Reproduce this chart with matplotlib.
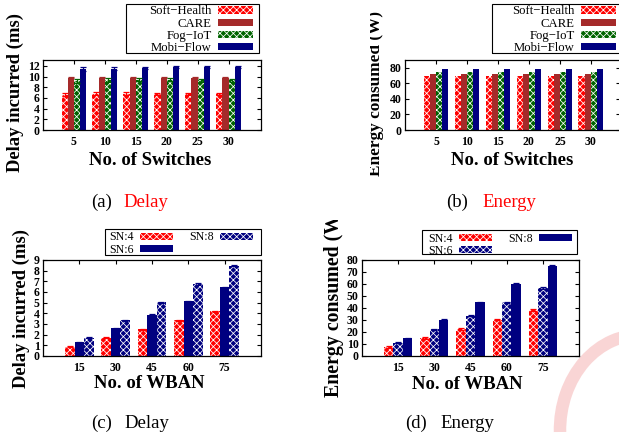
import numpy as np
import matplotlib
matplotlib.use("Agg")
import matplotlib.pyplot as plt
from matplotlib.transforms import Bbox, TransformedBbox
from matplotlib.patches import Arc, Rectangle

plt.rcParams['font.family'] = ['Liberation Serif', 'DejaVu Serif']
plt.rcParams['hatch.linewidth'] = 0.55

# ---------------- data ----------------
switches = ['5', '10', '15', '20', '25', '30']
methods = ['Soft\u2212Health', 'CARE', 'Fog\u2212IoT', 'Mobi\u2212Flow']

delay_soft = [6.6, 6.8, 6.8, 6.8, 6.8, 6.8]
delay_care = [9.8, 9.8, 9.8, 9.8, 9.8, 9.8]
delay_fog = [9.2, 9.3, 9.4, 9.4, 9.3, 9.3]
delay_mobi = [11.4, 11.5, 11.6, 11.8, 11.8, 11.8]
delay_err_soft = [0.3, 0.3, 0.3, 0.2, 0.2, 0.2]
delay_err_care = [0.1, 0.1, 0.1, 0.1, 0.1, 0.1]
delay_err_fog = [0.4, 0.4, 0.3, 0.3, 0.3, 0.3]
delay_err_mobi = [0.4, 0.3, 0.2, 0.15, 0.15, 0.15]

energy_soft = [69.5, 69, 69, 69, 69, 69]
energy_care = [72, 72, 72, 72, 72, 72]
energy_fog = [75, 74.5, 74.5, 74.5, 74.5, 74.5]
energy_mobi = [78, 78, 78, 78, 78, 78]

wban = ['15', '30', '45', '60', '75']
sn_labels = ['SN:4', 'SN:6', 'SN:8']
wdelay_sn4 = [0.85, 1.7, 2.5, 3.35, 4.2]
wdelay_sn6 = [1.3, 2.6, 3.85, 5.15, 6.45]
wdelay_sn8 = [1.7, 3.35, 5.05, 6.75, 8.45]
wdelay_err = [0.05, 0.05, 0.05, 0.05, 0.05]
wenergy_sn4 = [7.5, 15, 22.5, 30.3, 38]
wenergy_sn6 = [11, 22.2, 33.5, 44.7, 56.5]
wenergy_sn8 = [14.7, 30, 44.7, 60, 75]
wenergy_err = [0.5, 0.5, 0.5, 0.6, 0.8]

# ---------------- style ----------------
RED = '#ff0000'
BROWN = '#a52a2a'
GREEN = '#006400'
NAVY = '#000080'
HATCH = 'xxxxx'

W, H = 619, 442
fig = plt.figure(figsize=(W / 100, H / 100), dpi=100)


def rect(l, t, r, b):
    return [l / W, 1 - b / H, (r - l) / W, (b - t) / H]


def style_axes(ax, ticks, ticklabels, yticks):
    ax.set_xticks(ticks)
    ax.set_xticklabels(ticklabels)
    ax.set_yticks(yticks)
    ax.tick_params(direction='in', length=3, width=0.8, top=True, right=True,
                   labelsize=8.5)
    ax.tick_params(axis='x', pad=4.0)
    ax.tick_params(axis='y', pad=2.5)
    for lbl in ax.get_xticklabels() + ax.get_yticklabels():
        lbl.set_fontweight('bold')
    for s in ax.spines.values():
        s.set_linewidth(0.9)


def draw_bar(ax, x, y, w, color, hatch, err=None):
    if hatch:
        b = ax.bar(x, y, w, color=color, edgecolor='white', hatch=hatch,
                   linewidth=0, zorder=2)
    else:
        b = ax.bar(x, y, w, color=color, linewidth=0, zorder=2)
    if err is not None:
        ax.errorbar(x, y, yerr=err, fmt='none', ecolor=color, elinewidth=0.9,
                    capsize=2.2, capthick=0.9, zorder=3)
    return b


def legend(ax, handles, labels, frame, hx, hy, ncol=1, colsp=1.0, size=9.2):
    # frame: (left, top, right, bottom) in px ; (hx, hy): upper-right of entries
    lg = ax.legend(handles, labels, loc='upper right',
                   bbox_to_anchor=(hx / W, 1 - hy / H),
                   bbox_transform=fig.transFigure, borderaxespad=0,
                   markerfirst=False, ncol=ncol, columnspacing=colsp,
                   prop={'family': 'Liberation Serif', 'size': size},
                   handlelength=2.75, handleheight=0.5, handletextpad=0.5,
                   labelspacing=0.02, borderpad=0, frameon=False)
    l, t, r, b = frame
    fig.add_artist(Rectangle((l / W, 1 - b / H), (r - l) / W, (b - t) / H,
                             transform=fig.transFigure, fill=False,
                             edgecolor='black', lw=0.8, zorder=-1))
    return lg


def ylabel(text, x, y, size=13.4, clip=None):
    t = fig.text(x / W, 1 - y / H, text, rotation=90, ha='center', va='center',
                 fontsize=size, fontweight='bold')
    if clip is not None:
        l, tp, r, b = clip
        bb = Bbox.from_extents(l / W, 1 - b / H, r / W, 1 - tp / H)
        t.set_clip_box(TransformedBbox(bb, fig.transFigure))
        t.set_clip_on(True)
    return t


def xlabel(text, x, y):
    fig.text(x / W, 1 - y / H, text, ha='center', va='baseline',
             fontsize=13.5, fontweight='bold')


def caption(tag, word, x_right, x_left, y, color):
    fig.text(x_right / W, 1 - y / H, tag, ha='right', va='baseline',
             fontsize=13.5, color='black')
    fig.text(x_left / W, 1 - y / H, word, ha='left', va='baseline',
             fontsize=13.5, color=color)


# ---------------- (a) delay vs switches ----------------
xa = np.arange(len(switches))
bw = 0.2
ax = fig.add_axes(rect(43, 60, 261, 130))
h1 = draw_bar(ax, xa - 1.5 * bw, delay_soft, bw, RED, HATCH, delay_err_soft)
h2 = draw_bar(ax, xa - 0.5 * bw, delay_care, bw, BROWN, None, delay_err_care)
h3 = draw_bar(ax, xa + 0.5 * bw, delay_fog, bw, GREEN, HATCH, delay_err_fog)
h4 = draw_bar(ax, xa + 1.5 * bw, delay_mobi, bw, NAVY, None, delay_err_mobi)
ax.set_xlim(-1, 6.05)
ax.set_ylim(0, 13.1)
style_axes(ax, xa, switches, [0, 2, 4, 6, 8, 10, 12])
legend(ax, [h1, h2, h3, h4], methods, (126, 4, 259, 53), 253, 5.5)
ylabel('Delay incurred (ms)', 15.5, 92.5)
xlabel('No. of Switches', 150, 165)
caption('(a)', 'Delay', 112, 123, 207, RED)

# ---------------- (b) energy vs switches ----------------
ax = fig.add_axes(rect(405, 60, 620, 130))
h1 = draw_bar(ax, xa - 1.5 * bw, energy_soft, bw, RED, HATCH)
h2 = draw_bar(ax, xa - 0.5 * bw, energy_care, bw, BROWN, None)
h3 = draw_bar(ax, xa + 0.5 * bw, energy_fog, bw, GREEN, HATCH)
h4 = draw_bar(ax, xa + 1.5 * bw, energy_mobi, bw, NAVY, None)
ax.set_xlim(-1, 5.94)
ax.set_ylim(0, 90)
style_axes(ax, xa, switches, [0, 20, 40, 60, 80])
legend(ax, [h1, h2, h3, h4], methods, (492, 4, 625, 53), 616, 5.5)
ylabel('Energy consumed (W)', 376, 93.5, size=12.4, clip=(370, 0, 619, 442))
xlabel('No. of Switches', 512, 165)
caption('(b)', 'Energy', 468, 482, 207, RED)

# ---------------- (c) delay vs WBAN ----------------
xc = np.arange(len(wban))
cw = 0.26
ax = fig.add_axes(rect(43, 260, 261, 356))
g1 = draw_bar(ax, xc - cw, wdelay_sn4, cw, RED, HATCH, wdelay_err)
g2 = draw_bar(ax, xc, wdelay_sn6, cw, NAVY, None, wdelay_err)
g3 = draw_bar(ax, xc + cw, wdelay_sn8, cw, NAVY, HATCH, wdelay_err)
ax.set_xlim(-1, 5)
ax.set_ylim(0, 9)
style_axes(ax, xc, wban, list(range(10)))
legend(ax, [g1, g2, g3], sn_labels, (105, 229, 261, 255), 253, 231.5,
       ncol=2, colsp=1.4, size=8.6)
ylabel('Delay incurred (ms)', 21.5, 309)
xlabel('No. of WBAN', 149, 388)
caption('(c)', 'Delay', 112, 124, 428, 'black')

# ---------------- (d) energy vs WBAN ----------------
ax = fig.add_axes(rect(362, 260, 579, 356))
k1 = draw_bar(ax, xc - cw, wenergy_sn4, cw, RED, HATCH, wenergy_err)
k2 = draw_bar(ax, xc, wenergy_sn6, cw, NAVY, HATCH, wenergy_err)
k3 = draw_bar(ax, xc + cw, wenergy_sn8, cw, NAVY, None, wenergy_err)
ax.set_xlim(-1, 5)
ax.set_ylim(0, 80)
style_axes(ax, xc, wban, list(range(0, 81, 10)))
legend(ax, [k1, k2, k3], sn_labels, (422, 230, 577, 254), 572, 232.5,
       ncol=2, colsp=1.4, size=8.6)
ylabel('Energy consumed (W)', 334, 302, size=14.3, clip=(0, 220, 619, 442))
xlabel('No. of WBAN', 467, 389)
caption('(d)', 'Energy', 427, 440, 428, 'black')

# faint watermark stroke (decorative)
wm = Arc((640 / W, 1 - 430 / H), 160 / W, 190 / H, theta1=88, theta2=182,
         transform=fig.transFigure, color='#f7c4c4', lw=9, alpha=0.7, zorder=-5)
fig.add_artist(wm)

fig.savefig('out.png', dpi=100)
